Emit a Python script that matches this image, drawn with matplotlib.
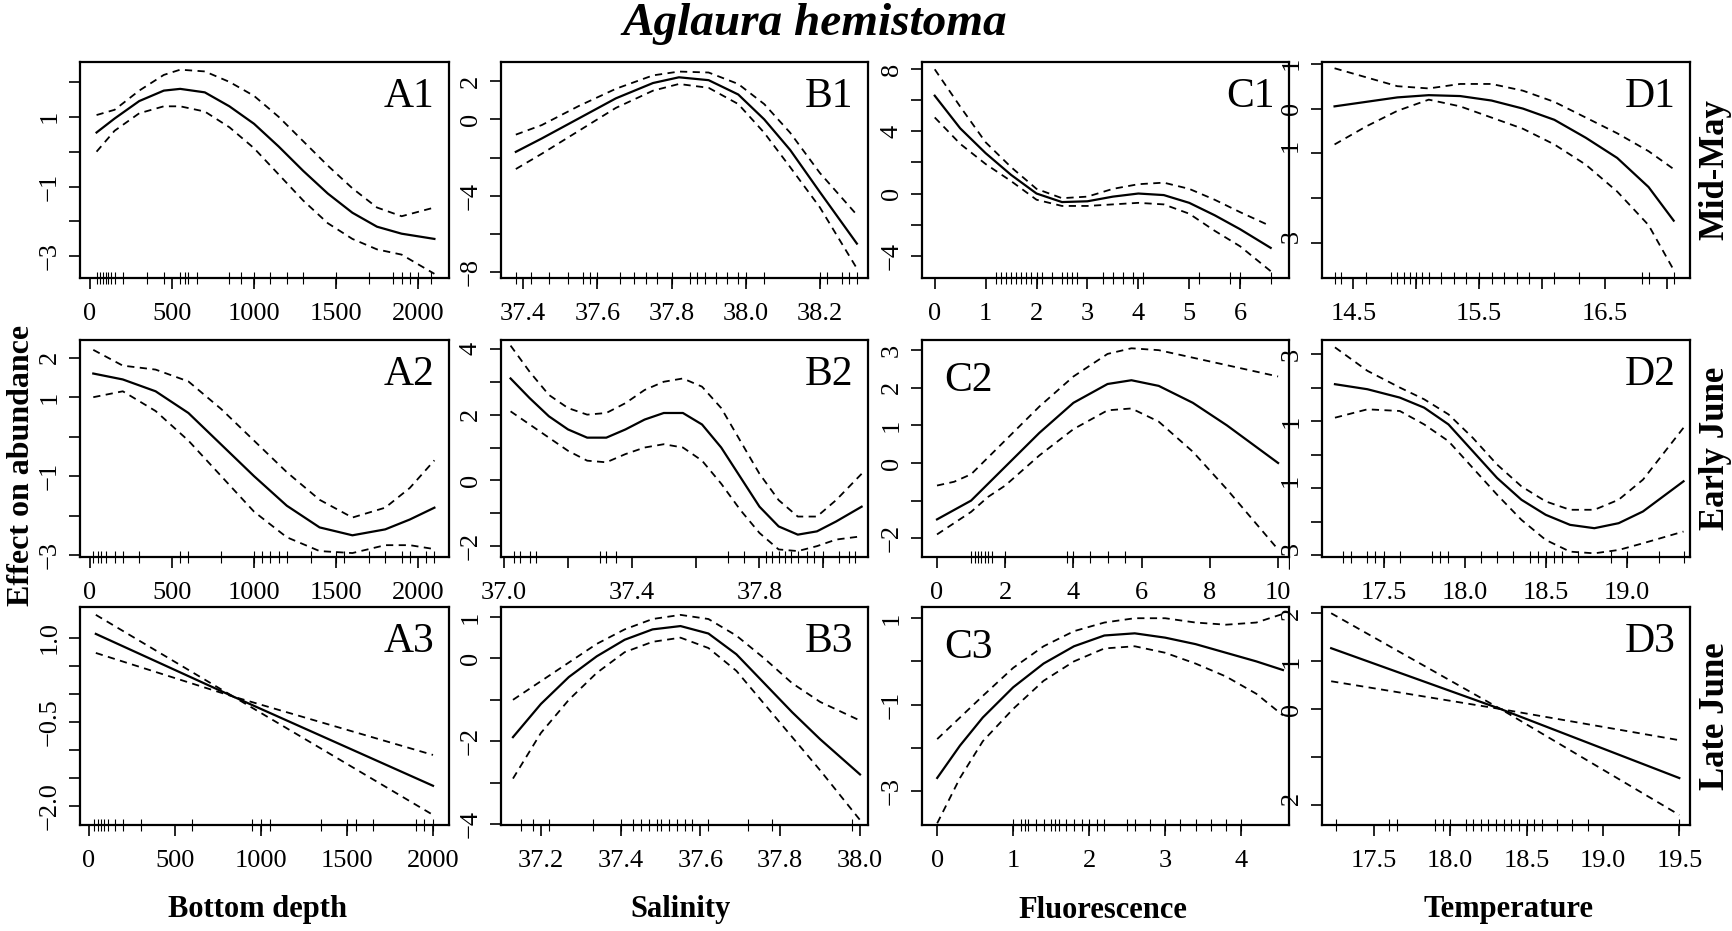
import matplotlib
matplotlib.use("Agg")
import matplotlib.pyplot as plt
import numpy as np

plt.rcParams['font.family'] = ['Liberation Serif', 'DejaVu Serif']

# ---- data ----
# A: bottom depth
a1_x = [40, 150, 300, 450, 550, 700, 850, 1000, 1150, 1300, 1450, 1600, 1750, 1900, 2100]
a1_fit = [0.55, 0.95, 1.45, 1.75, 1.8, 1.7, 1.3, 0.8, 0.15, -0.55, -1.2, -1.75, -2.15, -2.35, -2.5]
a1_up = [1.05, 1.2, 1.75, 2.2, 2.35, 2.3, 2.0, 1.6, 1.0, 0.3, -0.4, -1.05, -1.6, -1.85, -1.6]
a1_lo = [0.0, 0.6, 1.1, 1.3, 1.3, 1.15, 0.7, 0.1, -0.65, -1.4, -2.05, -2.5, -2.8, -2.95, -3.5]
a1_rug = [40, 60, 80, 95, 110, 130, 150, 200, 350, 450, 550, 580, 600, 650, 850, 920, 1000, 1100, 1200, 1300, 1500, 1700, 1850, 1900, 1950, 2000, 2080]

a2_x = [20, 200, 400, 600, 800, 1000, 1200, 1400, 1600, 1800, 1950, 2100]
a2_fit = [1.6, 1.45, 1.15, 0.6, -0.2, -1.0, -1.75, -2.3, -2.5, -2.35, -2.1, -1.8]
a2_up = [2.2, 1.8, 1.7, 1.4, 0.7, -0.1, -0.9, -1.6, -2.05, -1.8, -1.3, -0.6]
a2_lo = [1.0, 1.15, 0.65, -0.1, -1.0, -1.9, -2.55, -2.9, -2.95, -2.75, -2.75, -2.85]
a2_rug = [20, 50, 70, 100, 150, 200, 300, 550, 600, 800, 1000, 1050, 1100, 1150, 1200, 1350, 1500, 1550, 1700, 1800, 1900, 1950, 2050, 2100]

a3_x = [40, 840, 2000]
a3_fit = [1.07, -0.05, -1.64]
a3_up = [1.41, -0.05, -1.09]
a3_lo = [0.73, -0.05, -2.16]
a3_rug = [30, 50, 70, 90, 110, 150, 200, 300, 600, 950, 1000, 1050, 1350, 1500, 1550, 1650, 1900, 1950, 2000]

# B: salinity
b1_x = [37.38, 37.45, 37.55, 37.65, 37.75, 37.82, 37.9, 37.98, 38.05, 38.12, 38.2, 38.3]
b1_fit = [-1.7, -1.0, 0.05, 1.1, 1.9, 2.2, 2.05, 1.3, 0.0, -1.6, -3.8, -6.5]
b1_up = [-0.8, -0.3, 0.7, 1.6, 2.3, 2.5, 2.45, 1.85, 0.8, -0.7, -2.8, -5.0]
b1_lo = [-2.6, -1.8, -0.6, 0.6, 1.5, 1.85, 1.65, 0.8, -0.7, -2.5, -4.6, -7.8]
b1_rug = [37.38, 37.42, 37.47, 37.52, 37.56, 37.58, 37.6, 37.66, 37.7, 37.73, 37.76, 37.8, 37.85, 37.87, 37.89, 37.92, 37.95, 37.98, 38.0, 38.05, 38.2, 38.22, 38.26, 38.28, 38.3]

b2_x = [37.02, 37.08, 37.14, 37.2, 37.26, 37.32, 37.38, 37.44, 37.5, 37.56, 37.62, 37.68, 37.74, 37.8, 37.86, 37.92, 37.98, 38.04, 38.12]
b2_fit = [3.1, 2.5, 1.95, 1.55, 1.3, 1.3, 1.55, 1.85, 2.05, 2.05, 1.7, 1.0, 0.1, -0.8, -1.4, -1.65, -1.55, -1.25, -0.8]
b2_up = [4.1, 3.3, 2.6, 2.2, 2.0, 2.05, 2.35, 2.75, 3.0, 3.1, 2.85, 2.2, 1.2, 0.2, -0.6, -1.1, -1.1, -0.6, 0.2]
b2_lo = [2.1, 1.7, 1.3, 0.9, 0.6, 0.55, 0.8, 1.0, 1.1, 1.0, 0.6, -0.1, -0.9, -1.6, -2.1, -2.15, -2.0, -1.8, -1.7]
b2_rug = [37.03, 37.05, 37.08, 37.1, 37.3, 37.32, 37.35, 37.7, 37.75, 37.82, 37.84, 37.86, 37.88, 37.9, 37.92, 37.95, 37.97, 38.0, 38.05, 38.08, 38.1]

b3_x = [37.13, 37.2, 37.27, 37.34, 37.41, 37.48, 37.55, 37.62, 37.69, 37.76, 37.83, 37.9, 38.0]
b3_fit = [-1.9, -1.1, -0.45, 0.05, 0.45, 0.7, 0.78, 0.6, 0.1, -0.6, -1.3, -1.95, -2.8]
b3_up = [-1.0, -0.55, -0.1, 0.35, 0.7, 0.95, 1.05, 0.95, 0.55, 0.0, -0.6, -1.05, -1.5]
b3_lo = [-2.9, -1.8, -1.0, -0.35, 0.15, 0.4, 0.5, 0.25, -0.3, -1.1, -1.9, -2.7, -3.9]
b3_rug = [37.15, 37.18, 37.22, 37.33, 37.4, 37.43, 37.45, 37.47, 37.49, 37.5, 37.52, 37.54, 37.56, 37.58, 37.62, 37.72, 37.78, 37.98]

# C: fluorescence
c1_x = [0, 0.5, 1, 1.5, 2, 2.5, 3, 3.5, 4, 4.5, 5, 5.5, 6, 6.6]
c1_fit = [6.3, 4.2, 2.6, 1.2, 0.0, -0.55, -0.5, -0.2, 0.0, -0.1, -0.6, -1.4, -2.3, -3.5]
c1_up = [8.0, 5.6, 3.3, 1.7, 0.3, -0.3, -0.2, 0.3, 0.6, 0.7, 0.3, -0.4, -1.2, -2.1]
c1_lo = [4.9, 3.2, 1.9, 0.8, -0.4, -0.8, -0.8, -0.7, -0.6, -0.7, -1.3, -2.4, -3.4, -5.0]
c1_rug = [1.2, 1.3, 1.4, 1.5, 1.6, 1.7, 1.8, 1.9, 2.0, 2.1, 2.3, 2.5, 2.6, 2.7, 2.8, 3.3, 3.5, 3.7, 3.9, 4.1, 5.2, 5.8, 6.0, 6.6]

c2_x = [0, 0.5, 1, 1.5, 2, 3, 4, 5, 5.7, 6.5, 7.5, 8.5, 10]
c2_fit = [-1.5, -1.25, -1.0, -0.55, -0.1, 0.8, 1.6, 2.1, 2.2, 2.05, 1.6, 1.0, 0.0]
c2_up = [-0.6, -0.5, -0.3, 0.15, 0.6, 1.5, 2.3, 2.9, 3.05, 3.0, 2.8, 2.6, 2.3]
c2_lo = [-1.9, -1.6, -1.3, -0.9, -0.6, 0.2, 0.9, 1.4, 1.45, 1.1, 0.3, -0.7, -2.3]
c2_rug = [1.0, 1.1, 1.2, 1.3, 1.4, 1.5, 1.6, 2.0, 3.8, 4.0, 4.5, 5.0, 5.5]

c3_x = [0, 0.3, 0.6, 1.0, 1.4, 1.8, 2.2, 2.6, 3.0, 3.4, 3.8, 4.2, 4.55]
c3_fit = [-2.7, -1.95, -1.3, -0.6, -0.05, 0.35, 0.6, 0.65, 0.55, 0.4, 0.2, 0.0, -0.2]
c3_up = [-1.8, -1.3, -0.8, -0.15, 0.35, 0.7, 0.9, 1.0, 1.0, 0.9, 0.85, 0.9, 1.1]
c3_lo = [-3.75, -2.7, -1.85, -1.1, -0.45, 0.0, 0.3, 0.35, 0.2, -0.05, -0.35, -0.75, -1.25]
c3_rug = [1.0, 1.1, 1.15, 1.2, 1.3, 1.4, 1.5, 1.55, 1.6, 1.7, 1.8, 1.9, 2.0, 2.1, 2.2, 2.5, 2.6, 2.8, 3.0, 3.2, 3.4, 3.6, 3.8, 4.0]

# D: temperature
d1_x = [14.35, 14.6, 14.85, 15.1, 15.35, 15.6, 15.85, 16.1, 16.35, 16.6, 16.85, 17.05]
d1_fit = [0.05, 0.15, 0.25, 0.3, 0.28, 0.18, 0.0, -0.25, -0.65, -1.1, -1.75, -2.5]
d1_up = [0.9, 0.7, 0.5, 0.45, 0.55, 0.55, 0.4, 0.15, -0.2, -0.55, -0.95, -1.35]
d1_lo = [-0.8, -0.4, -0.05, 0.2, 0.05, -0.2, -0.45, -0.8, -1.25, -1.85, -2.6, -3.6]
d1_rug = [14.35, 14.4, 14.6, 14.8, 14.85, 14.9, 14.95, 15.0, 15.05, 15.1, 15.2, 15.3, 15.4, 15.5, 15.6, 15.7, 15.8, 15.9, 16.1, 16.3, 16.8, 16.85, 17.05]

d2_x = [17.2, 17.4, 17.6, 17.75, 17.9, 18.05, 18.2, 18.35, 18.5, 18.65, 18.8, 18.95, 19.1, 19.35]
d2_fit = [2.1, 1.95, 1.7, 1.4, 0.9, 0.1, -0.7, -1.35, -1.8, -2.1, -2.2, -2.05, -1.7, -0.8]
d2_up = [3.2, 2.5, 2.0, 1.65, 1.2, 0.5, -0.3, -0.95, -1.4, -1.65, -1.65, -1.35, -0.75, 0.8]
d2_lo = [1.1, 1.35, 1.3, 0.9, 0.4, -0.4, -1.2, -1.95, -2.55, -2.9, -2.95, -2.85, -2.65, -2.3]
d2_rug = [17.25, 17.3, 17.4, 17.45, 17.5, 17.6, 17.8, 17.85, 17.9, 18.1, 18.2, 18.3, 18.4, 18.45, 18.5, 18.55, 18.6, 18.7, 18.9, 19.0, 19.2, 19.35]

d3_x = [17.22, 18.33, 19.5]
d3_fit = [1.27, 0.0, -1.44]
d3_up = [2.0, 0.0, -0.65]
d3_lo = [0.58, 0.0, -2.21]
d3_rug = [17.25, 17.6, 17.65, 17.9, 17.95, 18.0, 18.1, 18.15, 18.2, 18.25, 18.3, 18.35, 18.4, 18.45, 18.5, 18.55, 18.6, 18.7, 18.8, 18.9, 19.5]

panels = {
    'A1': (a1_x, a1_fit, a1_up, a1_lo, a1_rug), 'B1': (b1_x, b1_fit, b1_up, b1_lo, b1_rug),
    'C1': (c1_x, c1_fit, c1_up, c1_lo, c1_rug), 'D1': (d1_x, d1_fit, d1_up, d1_lo, d1_rug),
    'A2': (a2_x, a2_fit, a2_up, a2_lo, a2_rug), 'B2': (b2_x, b2_fit, b2_up, b2_lo, b2_rug),
    'C2': (c2_x, c2_fit, c2_up, c2_lo, c2_rug), 'D2': (d2_x, d2_fit, d2_up, d2_lo, d2_rug),
    'A3': (a3_x, a3_fit, a3_up, a3_lo, a3_rug), 'B3': (b3_x, b3_fit, b3_up, b3_lo, b3_rug),
    'C3': (c3_x, c3_fit, c3_up, c3_lo, c3_rug), 'D3': (d3_x, d3_fit, d3_up, d3_lo, d3_rug),
}

# axis setup: xlim, ylim, xticks, xlabels shown, yticks, ylabels shown
setup = {
    'A1': ((-61, 2189), (-3.62, 2.57), [0, 500, 1000, 1500, 2000], None, [-3, -2, -1, 0, 1, 2], [-3, -1, 1]),
    'B1': ((37.34, 38.33), (-8.3, 3.0), [37.4, 37.6, 37.8, 38.0, 38.2], None, [-8, -6, -4, -2, 0, 2], [-8, -4, 0, 2]),
    'C1': ((-0.25, 6.96), (-5.44, 8.47), [0, 1, 2, 3, 4, 5, 6], None, [-4, -2, 0, 2, 4, 6, 8], [-4, 0, 4, 8]),
    'D1': ((14.25, 17.18), (-3.78, 1.04), [14.5, 15.0, 15.5, 16.0, 16.5, 17.0], [14.5, 15.5, 16.5], [-3, -2, -1, 0, 1], [-3, -1, 0, 1]),
    'A2': ((-61, 2189), (-3.05, 2.45), [0, 500, 1000, 1500, 2000], None, [-3, -2, -1, 0, 1, 2], [-3, -1, 1, 2]),
    'B2': ((36.99, 38.14), (-2.33, 4.27), [37.0, 37.2, 37.4, 37.6, 37.8, 38.0], [37.0, 37.4, 37.8], [-2, -1, 0, 1, 2, 3, 4], [-2, 0, 2, 4]),
    'C2': ((-0.44, 10.32), (-2.5, 3.27), [0, 2, 4, 6, 8, 10], None, [-2, -1, 0, 1, 2, 3], [-2, 0, 1, 2, 3]),
    'D2': ((17.12, 19.39), (-3.06, 3.42), [17.5, 18.0, 18.5, 19.0], None, [-3, -2, -1, 0, 1, 2, 3], [-3, -1, 1, 3]),
    'A3': ((-52, 2093), (-2.34, 1.55), [0, 500, 1000, 1500, 2000], None, [-2.0, -1.5, -1.0, -0.5, 0.0, 0.5, 1.0], [-2.0, -0.5, 1.0]),
    'B3': ((37.1, 38.02), (-4.02, 1.24), [37.2, 37.4, 37.6, 37.8, 38.0], None, [-4, -3, -2, -1, 0, 1], [-4, -2, 0, 1]),
    'C3': ((-0.2, 4.63), (-3.79, 1.26), [0, 1, 2, 3, 4], None, [-3, -2, -1, 0, 1], [-3, -1, 1]),
    'D3': ((17.16, 19.57), (-2.42, 2.13), [17.5, 18.0, 18.5, 19.0, 19.5], None, [-2, -1, 0, 1, 2], [-2, 0, 1, 2]),
}

W, H = 1732, 931
cols_px = [(80, 449), (501, 868), (922, 1289), (1322, 1690)]
rows_px = [(62, 278), (340, 557), (607, 825)]

fig = plt.figure(figsize=(W / 100, H / 100), dpi=100)

for r, (top, bot) in enumerate(rows_px):
    for c, (left, right) in enumerate(cols_px):
        name = 'ABCD'[c] + str(r + 1)
        x, fit, up, lo, rug = panels[name]
        xlim, ylim, xt, xtl, yt, ytl = setup[name]
        ax = fig.add_axes([left / W, 1 - bot / H, (right - left) / W, (bot - top) / H])
        ax.plot(x, fit, color='black', lw=1.6)
        ax.plot(x, up, color='black', lw=1.3, ls=(0, (4, 3)))
        ax.plot(x, lo, color='black', lw=1.3, ls=(0, (4, 3)))
        ax.plot(rug, [0] * len(rug), '|', color='black', ms=9, mew=0.8,
                transform=ax.get_xaxis_transform(), clip_on=False)
        ax.set_xlim(*xlim)
        ax.set_ylim(*ylim)
        ax.set_xticks(xt)
        shown = xt if xtl is None else xtl
        ax.set_xticklabels([(f'{v:g}' if name[0] not in 'BD' else f'{v:.1f}') if v in shown else '' for v in xt])
        ax.set_yticks(yt)
        ax.set_yticklabels([(f'{v:.1f}' if name == 'A3' else f'{v:g}').replace('-', '\u2212') if v in ytl else '' for v in yt],
                           rotation=90, va='center')
        ax.tick_params(direction='out', length=8, width=1.2, labelsize=19, pad=6)
        ax.tick_params(axis='x', pad=10)
        for s in ax.spines.values():
            s.set_linewidth(1.6)
        if name in ('C2', 'C3'):
            ax.text(0.06, 0.9, name, transform=ax.transAxes, fontsize=30, ha='left', va='top')
        else:
            ax.text(0.96, 0.93, name, transform=ax.transAxes, fontsize=30, ha='right', va='top')

fig.text(815 / W, 1 - 24 / H, 'Aglaura hemistoma', fontsize=34, style='italic', weight='bold', ha='center', va='center')
fig.text(22 / W, 0.5, 'Effect on abundance', fontsize=23, weight='bold', rotation=90, ha='center', va='center')
for (label, y) in [('Mid-May', 170), ('Early June', 448), ('Late June', 716)]:
    fig.text(1715 / W, 1 - y / H, label, fontsize=25, weight='bold', rotation=90, ha='center', va='center')
for (label, x) in [('Bottom depth', 258), ('Salinity', 680), ('Fluorescence', 1103), ('Temperature', 1508)]:
    fig.text(x / W, 1 - 910 / H, label, fontsize=22, weight='bold', ha='center', va='center')

fig.savefig('out.png', dpi=100)
